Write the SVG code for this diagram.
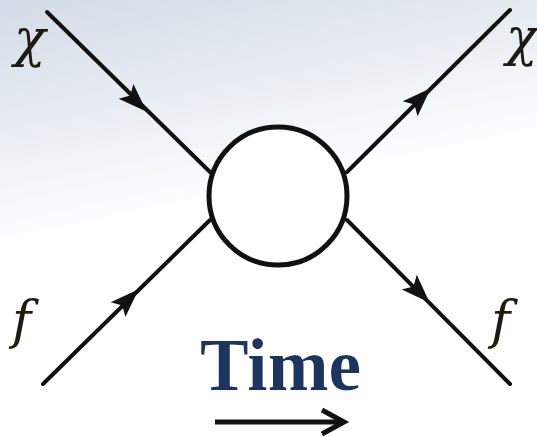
<svg xmlns="http://www.w3.org/2000/svg" width="537" height="437" viewBox="0 0 537 437">
  <defs>
    <linearGradient id="bg" gradientUnits="userSpaceOnUse" x1="0" y1="0" x2="50" y2="240">
      <stop offset="0" stop-color="#d3dbe6"/>
      <stop offset="0.5" stop-color="#e7ecf2"/>
      <stop offset="1" stop-color="#ffffff"/>
    </linearGradient>
    <path id="ah" d="M1,0 L-28,-10.5 L-22,0 L-28,10.5 z" fill="#111"/>
    <filter id="glow" x="-10%" y="-20%" width="120%" height="140%">
      <feMorphology in="SourceAlpha" operator="dilate" radius="2" result="d"/>
      <feGaussianBlur in="d" stdDeviation="3" result="b"/>
      <feFlood flood-color="#ffffff"/>
      <feComposite in2="b" operator="in" result="g"/>
      <feMerge><feMergeNode in="g"/><feMergeNode in="SourceGraphic"/></feMerge>
    </filter>
  </defs>
  <style>
    .ln { fill: none; stroke: #111; stroke-width: 4; stroke-linecap: round; }
    .lbl { font-family: "DejaVu Serif", "Liberation Serif", serif; font-style: italic; font-size: 52px; fill: #1e1a14; }
    .time { font-family: "Liberation Serif", serif; font-weight: bold; font-size: 73px; fill: #1c3661; }
  </style>
  <rect width="537" height="437" fill="url(#bg)"/>
  <g id="connectors">
    <path class="ln" d="M47,12 L210,172"/>
    <use href="#ah" transform="translate(146,111) rotate(44.5)"/>
    <path class="ln" d="M43,384 L210,220"/>
    <use href="#ah" transform="translate(138,290) rotate(-44.5)"/>
    <path class="ln" d="M347,172 L510,10"/>
    <use href="#ah" transform="translate(430,89) rotate(-44.8)"/>
    <path class="ln" d="M347,220 L510,384"/>
    <use href="#ah" transform="translate(429,302) rotate(45.2)"/>
  </g>
  <g id="vertex">
    <circle cx="278" cy="196" r="69" fill="#ffffff" stroke="#111" stroke-width="5"/>
  </g>
  <g id="label-chi-in"><text class="lbl" x="14" y="56">χ</text></g>
  <g id="label-chi-out"><text class="lbl" x="506" y="55">χ</text></g>
  <g id="label-f-in"><text class="lbl" x="12" y="338">f</text></g>
  <g id="label-f-out"><text class="lbl" x="491" y="338">f</text></g>
  <g id="time-label">
    <text class="time" x="200" y="390" filter="url(#glow)">Time</text>
  </g>
  <g id="time-arrow">
    <line x1="215" y1="422" x2="341" y2="422" stroke="#111" stroke-width="5"/>
    <polyline points="322,410 344,422 322,434" fill="none" stroke="#111" stroke-width="5"/>
  </g>
</svg>
